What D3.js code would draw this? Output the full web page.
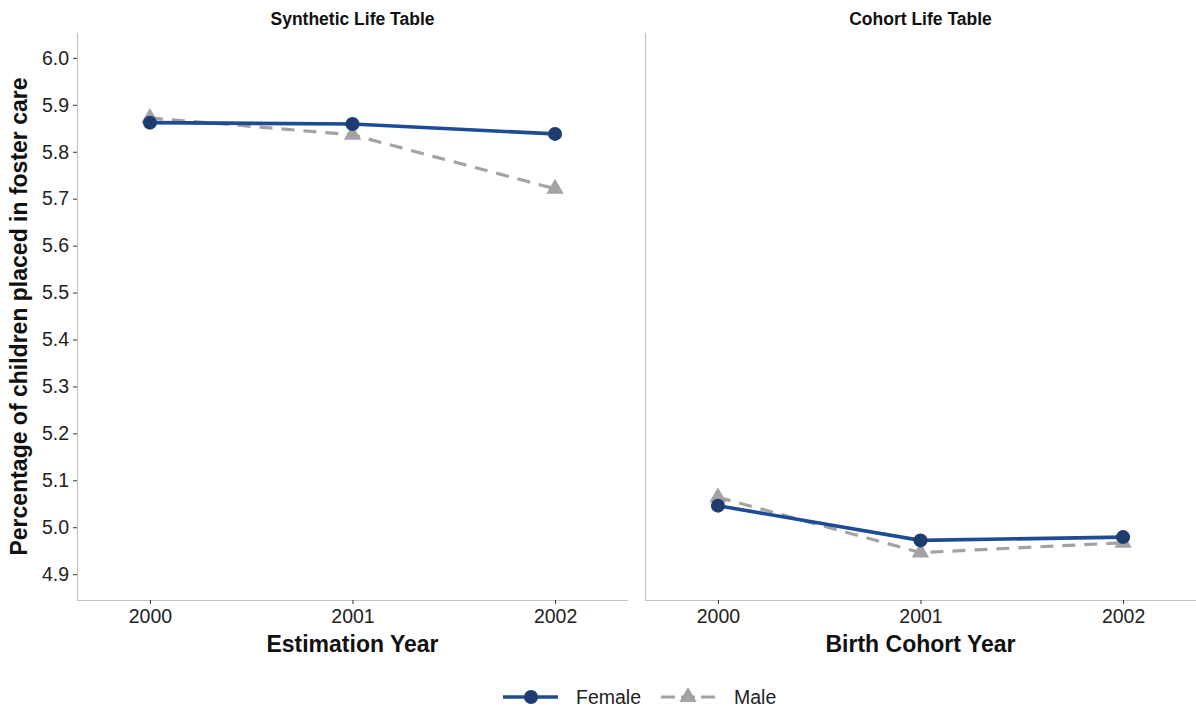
<!DOCTYPE html>
<html>
<head>
<meta charset="utf-8">
<script src="https://cdn.jsdelivr.net/npm/d3@7"></script>
<style>
  body { margin: 0; background: #fff; }
  text { font-family: "Liberation Sans", Arial, sans-serif; }
</style>
</head>
<body>
<svg id="chart" width="1196" height="711"></svg>
<script>
// data
const years = [2000, 2001, 2002];
const panels = ['Synthetic Life Table', 'Cohort Life Table'];
const xTitles = ['Estimation Year', 'Birth Cohort Year'];
const synthFemale = [5.862, 5.859, 5.838];
const synthMale = [5.872, 5.836, 5.721];
const cohortFemale = [5.046, 4.972, 4.979];
const cohortMale = [5.064, 4.946, 4.967];
const yTicks = [4.9, 5.0, 5.1, 5.2, 5.3, 5.4, 5.5, 5.6, 5.7, 5.8, 5.9, 6.0];

const femaleCol = '#1d4b95', femalePt = '#1f3c6e', maleCol = '#a3a3a3';

const svg = d3.select('#chart');
const plotTop = 33, plotBottom = 600;
const panelX = [[77, 628], [645, 1196]];

const y = d3.scaleLinear().domain([4.845, 6.053]).range([plotBottom, plotTop]);

const series = [
  [synthFemale, synthMale],
  [cohortFemale, cohortMale]
];

panels.forEach(function(title, i) {
  const [x0, x1] = panelX[i];
  const x = d3.scaleLinear().domain([1999.64, 2002.36]).range([x0, x1]);
  const g = svg.append('g');

  // axes
  const xAxis = g.append('g')
    .attr('transform', 'translate(0,' + plotBottom + ')')
    .call(d3.axisBottom(x).tickValues(years).tickFormat(d3.format('d')).tickSize(4).tickPadding(5));
  xAxis.select('.domain').attr('stroke', '#c4c4c4').attr('stroke-width', 1.2)
    .attr('d', 'M' + x0 + ',0.5H' + x1);
  xAxis.selectAll('.tick line').attr('stroke', '#333');
  xAxis.selectAll('.tick text').attr('font-size', 19.5).attr('fill', '#222');

  const yAxis = g.append('g').attr('transform', 'translate(' + x0 + ',0)');
  if (i === 0) {
    yAxis.call(d3.axisLeft(y).tickValues(yTicks).tickFormat(d3.format('.1f')).tickSize(4).tickPadding(4));
    yAxis.selectAll('.tick line').attr('stroke', '#333');
    yAxis.selectAll('.tick text').attr('font-size', 19.5).attr('fill', '#222');
  } else {
    yAxis.call(d3.axisLeft(y).tickValues([]).tickSize(0));
  }
  yAxis.select('.domain').attr('stroke', '#c4c4c4').attr('stroke-width', 1.2)
    .attr('d', 'M0.5,' + plotTop + 'V' + plotBottom);

  // strip title and x title
  g.append('text').attr('x', (x0 + x1) / 2).attr('y', 25)
    .attr('text-anchor', 'middle').attr('font-size', 17.5).attr('font-weight', 'bold')
    .attr('fill', '#111').text(title);
  g.append('text').attr('x', x(2001)).attr('y', 652)
    .attr('text-anchor', 'middle').attr('font-size', 23).attr('font-weight', 'bold')
    .attr('fill', '#111').text(xTitles[i]);

  const line = d3.line().x(function(d, j) { return x(years[j]); }).y(function(d) { return y(d); });
  const [fem, mal] = series[i];

  // male (dashed grey, triangles)
  g.append('path').datum(mal).attr('d', line).attr('fill', 'none')
    .attr('stroke', maleCol).attr('stroke-width', 3.2).attr('stroke-dasharray', '13,9');
  g.selectAll('.tri').data(mal).enter().append('path')
    .attr('d', d3.symbol().type(d3.symbolTriangle).size(130))
    .attr('transform', function(d, j) { return 'translate(' + x(years[j]) + ',' + y(d) + ')'; })
    .attr('fill', maleCol);

  // female (solid blue, circles)
  g.append('path').datum(fem).attr('d', line).attr('fill', 'none')
    .attr('stroke', femaleCol).attr('stroke-width', 3.6);
  g.selectAll('.dot').data(fem).enter().append('circle')
    .attr('cx', function(d, j) { return x(years[j]); })
    .attr('cy', function(d) { return y(d); })
    .attr('r', 7).attr('fill', femalePt);
});

// y title
svg.append('text')
  .attr('transform', 'translate(27,' + ((plotTop + plotBottom) / 2) + ') rotate(-90)')
  .attr('text-anchor', 'middle').attr('font-size', 23).attr('font-weight', 'bold')
  .attr('fill', '#111').text('Percentage of children placed in foster care');

// legend
const legend = svg.append('g').attr('transform', 'translate(0,697)');
const keys = [
  { name: 'Female', x: 503, col: femaleCol, dash: null, shape: 'circle' },
  { name: 'Male', x: 661, col: maleCol, dash: '14,6', shape: 'tri' }
];
keys.forEach(function(k) {
  legend.append('line').attr('x1', k.x).attr('x2', k.x + 55).attr('y1', 0).attr('y2', 0)
    .attr('stroke', k.col).attr('stroke-width', k.shape === 'circle' ? 3.6 : 3.2)
    .attr('stroke-dasharray', k.dash);
  if (k.shape === 'circle') {
    legend.append('circle').attr('cx', k.x + 28).attr('cy', 0).attr('r', 7).attr('fill', femalePt);
  } else {
    legend.append('path').attr('d', d3.symbol().type(d3.symbolTriangle).size(130))
      .attr('transform', 'translate(' + (k.x + 27) + ',0)').attr('fill', maleCol);
  }
  legend.append('text').attr('x', k.x + 73).attr('y', 7).attr('font-size', 19.5)
    .attr('fill', '#222').text(k.name);
});
</script>
</body>
</html>
